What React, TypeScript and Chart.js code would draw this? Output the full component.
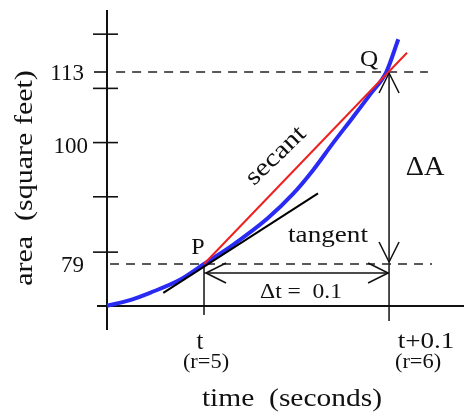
import React, { useEffect, useRef } from "react";
import { Chart, registerables } from "chart.js";

Chart.register(...registerables);

// ---- data (x = radius r, y = area in square feet) ----
const curveR = [4.476, 4.6, 4.708, 4.87, 5.0, 5.157, 5.341, 5.481, 5.589, 5.697, 5.805, 5.897, 5.985, 6.05];
const curveArea = [71.6, 72.6, 73.9, 76.2, 79.0, 82.4, 87.0, 91.4, 95.6, 100.4, 105.0, 109.0, 113.0, 118.8];

const secantR = [5.0, 6.097];
const secantArea = [79, 116.4];

const tangentR = [4.78, 5.616];
const tangentArea = [73.9, 91.5];

const pointNames = ["P", "Q"];
const pointR = [5, 6];
const pointArea = [79, 113];

const guide79R = [4.492, 6.232];
const guide113R = [4.525, 6.21];

const yLabelValues = [113, 100, 79];
const yLabelTexts = ["113", "100", "79"];
const yPlainTicks = [81.1, 90.9, 100.5, 110.1, 119.7];

const xLabelValues = [5, 6];
const xLabelMain = ["t", "t+0.1"];
const xLabelSub = ["(r=5)", "(r=6)"];

const xTitle = "time  (seconds)";
const yTitle = "area  (square feet)";
const secantText = "secant";
const tangentText = "tangent";
const deltaAText = "ΔA";
const deltaTText = "Δt =  0.1";

const X_MIN = 4.4757;
const X_MAX = 6.405;
const Y_MIN = 71.56;
const Y_MAX = 123.98;

const FONT = '"Liberation Serif", "Times New Roman", serif';
const INK = "#111";

function txt(
  ctx: CanvasRenderingContext2D,
  s: string,
  x: number,
  y: number,
  size: number,
  sx = 1,
  rot = 0,
  align: CanvasTextAlign = "center",
  baseline: CanvasTextBaseline = "middle"
) {
  ctx.save();
  ctx.translate(x, y);
  if (rot) ctx.rotate(rot);
  ctx.scale(sx, 1);
  ctx.font = `${size}px ${FONT}`;
  ctx.textAlign = align;
  ctx.textBaseline = baseline;
  ctx.fillStyle = INK;
  ctx.fillText(s, 0, 0);
  ctx.restore();
}

function line(ctx: CanvasRenderingContext2D, x1: number, y1: number, x2: number, y2: number, w = 1.5) {
  ctx.save();
  ctx.strokeStyle = INK;
  ctx.lineWidth = w;
  ctx.beginPath();
  ctx.moveTo(x1, y1);
  ctx.lineTo(x2, y2);
  ctx.stroke();
  ctx.restore();
}

function head(ctx: CanvasRenderingContext2D, tx: number, ty: number, dx: number, dy: number) {
  const len = 20;
  const half = 10;
  const n = Math.hypot(dx, dy);
  const ux = dx / n;
  const uy = dy / n;
  const bx = tx - ux * len;
  const by = ty - uy * len;
  line(ctx, tx, ty, bx - uy * half, by + ux * half, 1.5);
  line(ctx, tx, ty, bx + uy * half, by - ux * half, 1.5);
}

const figurePlugin = {
  id: "figure",
  beforeDatasetsDraw(chart: any) {
    const ctx: CanvasRenderingContext2D = chart.ctx;
    const xs = chart.scales.x;
    const ys = chart.scales.y;
    const x0 = xs.getPixelForValue(X_MIN);
    const y0 = ys.getPixelForValue(Y_MIN);
    const yTop = ys.getPixelForValue(Y_MAX);
    const xRight = xs.getPixelForValue(X_MAX);

    line(ctx, x0, yTop, x0, y0 + 24, 2);
    line(ctx, x0 - 10, y0, xRight, y0, 2);

    yPlainTicks.forEach((v) => {
      const p = ys.getPixelForValue(v);
      line(ctx, x0 - 14, p, x0 + 11, p, 1.6);
    });
    const p113 = ys.getPixelForValue(yLabelValues[0]);
    line(ctx, x0 - 13, p113, x0, p113, 1.6);

    yLabelValues.forEach((v, i) => {
      const p = ys.getPixelForValue(v);
      const right = i === 1 ? x0 - 19 : x0 - 23;
      txt(ctx, yLabelTexts[i], right, p + 2, 23, 1, 0, "right");
    });

    const pP = { x: xs.getPixelForValue(pointR[0]), y: ys.getPixelForValue(pointArea[0]) };
    const pQ = { x: xs.getPixelForValue(pointR[1]), y: ys.getPixelForValue(pointArea[1]) };
    line(ctx, pP.x, pP.y, pP.x, y0 + 9, 1.5);
    line(ctx, pQ.x, pQ.y, pQ.x, y0 + 15, 1.5);
  },
  afterDatasetsDraw(chart: any) {
    const ctx: CanvasRenderingContext2D = chart.ctx;
    const xs = chart.scales.x;
    const ys = chart.scales.y;
    const y0 = ys.getPixelForValue(Y_MIN);
    const pP = { x: xs.getPixelForValue(pointR[0]), y: ys.getPixelForValue(pointArea[0]) };
    const pQ = { x: xs.getPixelForValue(pointR[1]), y: ys.getPixelForValue(pointArea[1]) };

    head(ctx, pQ.x, pQ.y + 1, 0, -1);
    head(ctx, pQ.x, pP.y - 2, 0, 1);
    const ay = pP.y + 9;
    line(ctx, pP.x, ay, pQ.x, ay, 1.5);
    head(ctx, pP.x + 2, ay, -1, 0);
    head(ctx, pQ.x - 1, ay, 1, 0);

    txt(ctx, pointNames[0], pP.x - 6, pP.y - 16, 24);
    txt(ctx, pointNames[1], pQ.x - 20, pQ.y - 12, 24, 1.05);

    txt(ctx, secantText, 276, 156, 25, 1.18, (-44 * Math.PI) / 180);
    txt(ctx, tangentText, 328, 236, 23, 1.18);
    txt(ctx, deltaAText, 425, 168, 27, 1.05);
    txt(ctx, deltaTText, pP.x + 97, ay + 19, 21, 1.12);

    txt(ctx, xLabelMain[0], xs.getPixelForValue(xLabelValues[0]) - 4, y0 + 36, 25);
    txt(ctx, xLabelSub[0], xs.getPixelForValue(xLabelValues[0]) + 2, y0 + 57, 20, 1.12);
    txt(ctx, xLabelMain[1], xs.getPixelForValue(xLabelValues[1]) + 37, y0 + 36, 23, 1.18);
    txt(ctx, xLabelSub[1], xs.getPixelForValue(xLabelValues[1]) + 29, y0 + 57, 20, 1.12);

    txt(ctx, xTitle, 292, 399, 25, 1.18);
    txt(ctx, yTitle, 25, 178, 25, 1.2, -Math.PI / 2);
  },
};

export default function App() {
  const ref = useRef<HTMLCanvasElement | null>(null);

  useEffect(() => {
    if (!ref.current) return;
    const curve = curveR.map((r, i) => ({ x: r, y: curveArea[i] }));
    const secant = secantR.map((r, i) => ({ x: r, y: secantArea[i] }));
    const tangent = tangentR.map((r, i) => ({ x: r, y: tangentArea[i] }));
    const g79 = guide79R.map((r) => ({ x: r, y: pointArea[0] }));
    const g113 = guide113R.map((r) => ({ x: r, y: pointArea[1] }));

    const chart = new Chart(ref.current, {
      type: "line",
      data: {
        datasets: [
          { data: tangent, borderColor: "#000", borderWidth: 2, pointRadius: 0, clip: false as any, order: 0 },
          { data: secant, borderColor: "#ee2020", borderWidth: 2, pointRadius: 0, clip: false as any, order: 1 },
          {
            data: curve,
            borderColor: "#2a2af5",
            borderWidth: 4,
            pointRadius: 0,
            cubicInterpolationMode: "monotone",
            clip: false as any,
            order: 2,
          },
          { data: g79, borderColor: "#222", borderWidth: 1.4, borderDash: [9, 7], pointRadius: 0, clip: false as any, order: 3 },
          { data: g113, borderColor: "#222", borderWidth: 1.4, borderDash: [9, 7], pointRadius: 0, clip: false as any, order: 4 },
        ],
      },
      options: {
        animation: false,
        responsive: true,
        maintainAspectRatio: false,
        layout: { padding: { left: 107, right: 0, top: 10, bottom: 106 } },
        plugins: { legend: { display: false }, tooltip: { enabled: false } },
        events: [],
        scales: {
          x: { type: "linear", min: X_MIN, max: X_MAX, display: false },
          y: { type: "linear", min: Y_MIN, max: Y_MAX, display: false },
        },
      },
      plugins: [figurePlugin],
    });
    return () => chart.destroy();
  }, []);

  return (
    <div style={{ position: "fixed", left: 0, top: 0, width: 464, height: 412, background: "#fff" }}>
      <canvas ref={ref} />
    </div>
  );
}
